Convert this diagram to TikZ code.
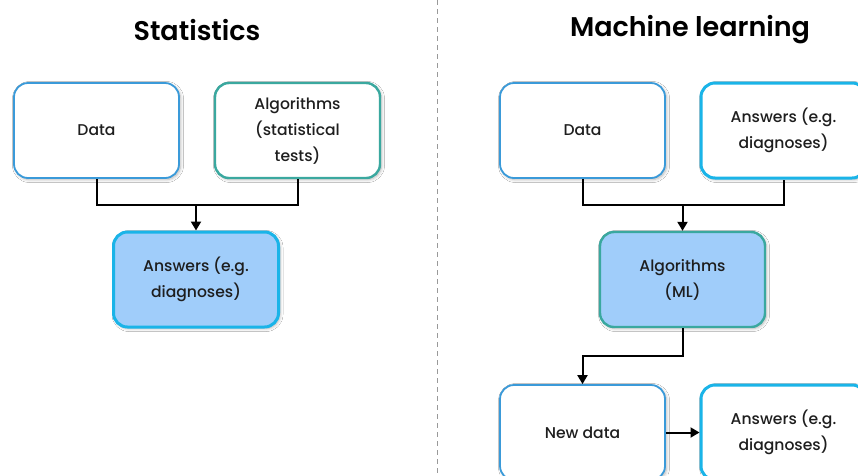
\documentclass[tikz,border=0pt]{standalone}
\usepackage{fontspec}
\setmainfont{Poppins}[UprightFont={* Medium}, BoldFont={* SemiBold}]
\usetikzlibrary{arrows.meta,shadows.blur}

\definecolor{plainblue}{HTML}{3A9AD9}
\definecolor{tealline}{HTML}{3AA89F}
\definecolor{cyanline}{HTML}{1AB4E8}
\definecolor{softfill}{HTML}{A0CDFA}
\definecolor{textdark}{HTML}{1E1E1E}

\tikzset{
  box/.style={rounded corners=14pt, minimum width=165pt, minimum height=95pt,
    align=center, fill=white, text=textdark,
    font=\fontsize{15.6}{26}\selectfont,
    blur shadow={shadow xshift=1.5pt, shadow yshift=-1.5pt, shadow opacity=30,
      shadow blur steps=6, shadow blur radius=3pt}},
  databox/.style={box, draw=plainblue, line width=1.8pt},
  tealbox/.style={box, draw=tealline, line width=2.4pt},
  answerbox/.style={box, draw=cyanline, line width=3pt},
  filled/.style={fill=softfill},
  link/.style={line width=2pt, draw=black},
  arrowlink/.style={link, -{Triangle[length=9pt,width=10pt]}},
  heading/.style={font=\fontsize{27}{30}\selectfont\bfseries, text=black},
}

\begin{document}
\begin{tikzpicture}[x=1pt, y=-1pt]
  \useasboundingbox (0,0) rectangle (858,475);
  \fill[white] (0,0) rectangle (858,475);

  % column separator
  \draw[gray!80, line width=1pt, dash pattern=on 5pt off 4pt] (437,0) -- (437,475);

  % headings
  \node[heading] (tstat) at (197,30) {Statistics};
  \node[heading] (tml) at (690,30) {Machine learning};

  % statistics column
  \node[databox] (dataL) at (96.5,130.5) {Data};
  \node[tealbox] (algL) at (297.5,130.5) {Algorithms\\(statistical\\tests)};
  \node[answerbox, filled] (ansL) at (196,279.5) {Answers (e.g.\\diagnoses)};
  \coordinate (jL) at (196,205);
  \draw[link] (dataL.south) |- (jL) -| (algL.south);
  \draw[arrowlink] (jL) -- (ansL.north);

  % machine learning column
  \node[databox] (dataR) at (582.5,130.5) {Data};
  \node[answerbox] (ansR) at (783.5,130.5) {Answers (e.g.\\diagnoses)};
  \node[tealbox, filled] (mlR) at (682.5,279.5) {Algorithms\\(ML)};
  \node[databox] (newR) at (582.5,432.5) {New data};
  \node[answerbox] (ans2R) at (783.5,432.5) {Answers (e.g.\\diagnoses)};
  \coordinate (jR) at (682.5,205);
  \draw[link] (dataR.south) |- (jR) -| (ansR.south);
  \draw[arrowlink] (jR) -- (mlR.north);
  \coordinate (kR) at (582.5,356);
  \draw[arrowlink] (mlR.south) |- (kR) -- (newR.north);
  \draw[arrowlink] (newR.east) -- (ans2R.west);
\end{tikzpicture}
\end{document}
